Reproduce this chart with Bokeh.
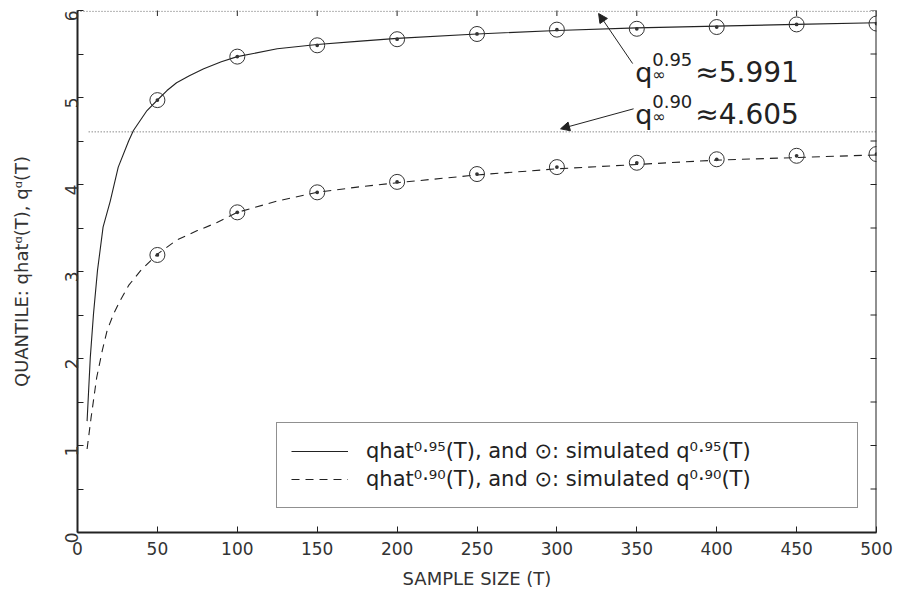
import math
from bokeh.plotting import figure
from bokeh.models import (Range1d, LinearAxis, FixedTicker, Legend, LegendItem,
                          Label, Arrow, NormalHead, Span)
from bokeh.embed import file_html
from bokeh.resources import INLINE

# ---------------- data ----------------
T_curve95 = [6, 8, 10, 12.5, 16, 20.5, 25.5, 32, 35, 43.5, 50.5, 56, 62, 70, 79, 90, 100,
             125, 150, 175, 200, 250, 300, 350, 400, 450, 500]
q_curve95 = [1.28, 2.01, 2.51, 3.01, 3.51, 3.81, 4.20, 4.50, 4.62, 4.85, 4.98, 5.08, 5.17,
             5.25, 5.33, 5.41, 5.47, 5.56, 5.61, 5.645, 5.68, 5.73, 5.77, 5.80, 5.82,
             5.84, 5.86]
T_curve90 = [6, 8.5, 12, 15.5, 18.5, 22.5, 26.5, 32, 39.5, 50, 62, 75, 87, 100, 125, 150,
             175, 200, 250, 300, 350, 400, 450, 500]
q_curve90 = [0.96, 1.32, 1.78, 2.09, 2.32, 2.51, 2.66, 2.84, 3.01, 3.20, 3.36, 3.47, 3.56,
             3.68, 3.81, 3.91, 3.97, 4.02, 4.11, 4.18, 4.23, 4.28, 4.31, 4.34]
T_sim = [50, 100, 150, 200, 250, 300, 350, 400, 450, 500]
q_sim95 = [4.97, 5.47, 5.60, 5.67, 5.73, 5.78, 5.79, 5.81, 5.84, 5.85]
q_sim90 = [3.19, 3.68, 3.91, 4.03, 4.12, 4.20, 4.25, 4.29, 4.33, 4.35]

ref_levels = [5.991, 4.605]
ref_start = [0, 7]
ref_sup = ["0.95", "0.90"]
ref_text = ["≈5.991", "≈4.605"]
label_T = [349.0, 349.0]
label_q = [5.29, 4.81]
arrow_tail_T = [347.4, 348.0]
arrow_tail_q = [5.39, 4.87]
arrow_head_T = [326.1, 302.3]
arrow_head_q = [5.965, 4.64]

x_min, x_max = 0, 500
y_min, y_max = 0, 6
x_ticks = [0, 50, 100, 150, 200, 250, 300, 350, 400, 450, 500]
y_ticks = [0, 1, 2, 3, 4, 5, 6]
y_minor = [0.5, 1.5, 2.5, 3.5, 4.5, 5.5]

legend_labels = ["qhat⁰·⁹⁵(T), and ⊙: simulated q⁰·⁹⁵(T)",
                 "qhat⁰·⁹⁰(T), and ⊙: simulated q⁰·⁹⁰(T)"]

FONT = "DejaVu Sans"
INK = "#222222"
GREY = "#333333"

p = figure(width=898, height=598, output_backend="svg", toolbar_location=None,
           x_range=Range1d(x_min, x_max), y_range=Range1d(y_min, y_max),
           min_border_left=77, min_border_right=22, min_border_top=10,
           min_border_bottom=66, x_axis_location=None, y_axis_location=None)
p.outline_line_color = None
p.xgrid.visible = False
p.ygrid.visible = False
p.background_fill_color = "white"


def style_axis(ax):
    ax.major_tick_in = 6
    ax.major_tick_out = 0
    ax.minor_tick_in = 6
    ax.minor_tick_out = 0
    ax.major_tick_line_color = INK
    ax.minor_tick_line_color = INK
    ax.axis_line_width = 2
    ax.axis_line_color = INK
    ax.major_label_text_font = FONT
    ax.major_label_text_color = GREY
    ax.major_label_text_font_size = "17px"
    ax.axis_label_text_font = FONT
    ax.axis_label_text_font_style = "normal"
    ax.axis_label_text_font_size = "18px"
    ax.axis_label_text_color = GREY


xb = LinearAxis(ticker=FixedTicker(ticks=x_ticks), axis_label="SAMPLE SIZE (T)")
style_axis(xb)
xb.major_label_standoff = 9
xb.axis_label_standoff = 10
p.add_layout(xb, "below")

yl = LinearAxis(ticker=FixedTicker(ticks=y_ticks, minor_ticks=y_minor),
                axis_label="QUANTILE: qhatᵅ(T), qᵅ(T)")
style_axis(yl)
yl.major_label_orientation = math.pi / 2
yl.major_label_standoff = 6
yl.axis_label_standoff = 24
p.add_layout(yl, "left")

# right frame line and inward ticks on top / right edges (clipped to the frame)
p.add_layout(Span(location=x_max, dimension="height", line_color=INK, line_width=2))
p.scatter(x_ticks, [y_max] * len(x_ticks), marker="dash", angle=math.pi / 2, size=11,
          line_color=INK, line_width=1)
p.scatter([x_max] * (len(y_ticks) + len(y_minor)), y_ticks + y_minor, marker="dash",
          size=12, line_color=INK, line_width=1)

# reference dotted levels
for lev, st in zip(ref_levels, ref_start):
    p.line([st, x_max], [lev, lev], line_color="#555555", line_width=1, line_dash="1 2")

# curves
r95 = p.line(T_curve95, q_curve95, line_color=INK, line_width=1.1)
r90 = p.line(T_curve90, q_curve90, line_color=INK, line_width=1.1, line_dash="8 6")

# simulated points
p.scatter(T_sim, q_sim95, marker="circle_dot", size=15, fill_alpha=0,
          line_color=GREY, line_width=1)
p.scatter(T_sim, q_sim90, marker="circle_dot", size=15, fill_alpha=0,
          line_color=GREY, line_width=1)

# annotations
for i in range(2):
    p.add_layout(Arrow(end=NormalHead(size=9, fill_color=INK, line_color=INK, line_width=1),
                       x_start=arrow_tail_T[i], y_start=arrow_tail_q[i],
                       x_end=arrow_head_T[i], y_end=arrow_head_q[i],
                       line_color=INK, line_width=1))
    common = dict(x=label_T[i], y=label_q[i], text_font=FONT, text_color=INK,
                  text_baseline="alphabetic")
    p.add_layout(Label(text="q", text_font_size="27px", **common))
    p.add_layout(Label(text=ref_sup[i], text_font_size="18px", x_offset=17, y_offset=13,
                       **common))
    p.add_layout(Label(text="∞", text_font_size="16px", x_offset=17, y_offset=-2, **common))
    p.add_layout(Label(text=ref_text[i], text_font_size="28px", x_offset=60, **common))

legend = Legend(items=[LegendItem(label=legend_labels[0], renderers=[r95]),
                       LegendItem(label=legend_labels[1], renderers=[r90])],
                location=(199, 24), orientation="vertical")
legend.label_text_font = FONT
legend.label_text_font_size = "21px"
legend.label_text_color = INK
legend.glyph_width = 57
legend.glyph_height = 28
legend.label_height = 28
legend.label_width = 477
legend.label_standoff = 18
legend.spacing = 0
legend.padding = 14
legend.margin = 0
legend.border_line_color = INK
legend.border_line_width = 1
legend.background_fill_color = "white"
legend.background_fill_alpha = 1
p.add_layout(legend, "center")

open("out.html", "w").write(file_html(p, INLINE))
